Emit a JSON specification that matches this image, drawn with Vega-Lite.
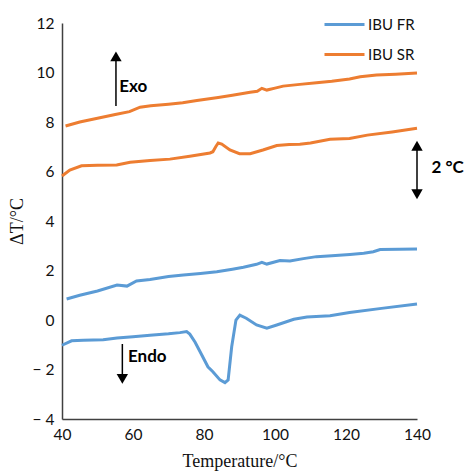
{
  "$schema": "https://vega.github.io/schema/vega-lite/v6.json",
  "width": 355,
  "height": 396,
  "autosize": {"type": "none"},
  "padding": {"left": 62, "top": 23, "right": 48, "bottom": 55},
  "background": "white",
  "config": {
    "view": {"stroke": null},
    "font": "Lato",
    "axis": {"grid": false, "ticks": false, "domainColor": "#404040", "domainWidth": 1.5, "labelColor": "#111", "labelFontSize": 15.5, "labelFont": "Lato"}
  },
  "datasets": {
    "curves": [
      {"T": 41, "v": 7.84, "series": "IBU SR", "curve": "SR_a"},
      {"T": 45, "v": 8.0, "series": "IBU SR", "curve": "SR_a"},
      {"T": 50, "v": 8.15, "series": "IBU SR", "curve": "SR_a"},
      {"T": 55, "v": 8.3, "series": "IBU SR", "curve": "SR_a"},
      {"T": 59, "v": 8.42, "series": "IBU SR", "curve": "SR_a"},
      {"T": 62, "v": 8.6, "series": "IBU SR", "curve": "SR_a"},
      {"T": 65, "v": 8.66, "series": "IBU SR", "curve": "SR_a"},
      {"T": 70, "v": 8.72, "series": "IBU SR", "curve": "SR_a"},
      {"T": 74, "v": 8.78, "series": "IBU SR", "curve": "SR_a"},
      {"T": 78, "v": 8.87, "series": "IBU SR", "curve": "SR_a"},
      {"T": 84, "v": 8.99, "series": "IBU SR", "curve": "SR_a"},
      {"T": 88, "v": 9.08, "series": "IBU SR", "curve": "SR_a"},
      {"T": 93, "v": 9.2, "series": "IBU SR", "curve": "SR_a"},
      {"T": 95, "v": 9.24, "series": "IBU SR", "curve": "SR_a"},
      {"T": 96.3, "v": 9.36, "series": "IBU SR", "curve": "SR_a"},
      {"T": 97.7, "v": 9.29, "series": "IBU SR", "curve": "SR_a"},
      {"T": 100, "v": 9.37, "series": "IBU SR", "curve": "SR_a"},
      {"T": 102.3, "v": 9.45, "series": "IBU SR", "curve": "SR_a"},
      {"T": 107, "v": 9.52, "series": "IBU SR", "curve": "SR_a"},
      {"T": 111.7, "v": 9.59, "series": "IBU SR", "curve": "SR_a"},
      {"T": 116, "v": 9.65, "series": "IBU SR", "curve": "SR_a"},
      {"T": 121, "v": 9.74, "series": "IBU SR", "curve": "SR_a"},
      {"T": 124, "v": 9.83, "series": "IBU SR", "curve": "SR_a"},
      {"T": 128.6, "v": 9.9, "series": "IBU SR", "curve": "SR_a"},
      {"T": 134, "v": 9.93, "series": "IBU SR", "curve": "SR_a"},
      {"T": 140, "v": 9.98, "series": "IBU SR", "curve": "SR_a"},

      {"T": 40, "v": 5.82, "series": "IBU SR", "curve": "SR_b"},
      {"T": 42.2, "v": 6.06, "series": "IBU SR", "curve": "SR_b"},
      {"T": 45.5, "v": 6.23, "series": "IBU SR", "curve": "SR_b"},
      {"T": 50, "v": 6.25, "series": "IBU SR", "curve": "SR_b"},
      {"T": 55.4, "v": 6.26, "series": "IBU SR", "curve": "SR_b"},
      {"T": 59.2, "v": 6.37, "series": "IBU SR", "curve": "SR_b"},
      {"T": 64.8, "v": 6.44, "series": "IBU SR", "curve": "SR_b"},
      {"T": 70.4, "v": 6.5, "series": "IBU SR", "curve": "SR_b"},
      {"T": 76, "v": 6.62, "series": "IBU SR", "curve": "SR_b"},
      {"T": 81.7, "v": 6.75, "series": "IBU SR", "curve": "SR_b"},
      {"T": 82.5, "v": 6.8, "series": "IBU SR", "curve": "SR_b"},
      {"T": 83.3, "v": 7.0, "series": "IBU SR", "curve": "SR_b"},
      {"T": 84, "v": 7.15, "series": "IBU SR", "curve": "SR_b"},
      {"T": 85, "v": 7.11, "series": "IBU SR", "curve": "SR_b"},
      {"T": 87.3, "v": 6.87, "series": "IBU SR", "curve": "SR_b"},
      {"T": 90, "v": 6.72, "series": "IBU SR", "curve": "SR_b"},
      {"T": 93, "v": 6.72, "series": "IBU SR", "curve": "SR_b"},
      {"T": 96.6, "v": 6.87, "series": "IBU SR", "curve": "SR_b"},
      {"T": 100.5, "v": 7.05, "series": "IBU SR", "curve": "SR_b"},
      {"T": 104, "v": 7.09, "series": "IBU SR", "curve": "SR_b"},
      {"T": 107, "v": 7.1, "series": "IBU SR", "curve": "SR_b"},
      {"T": 110, "v": 7.15, "series": "IBU SR", "curve": "SR_b"},
      {"T": 115.5, "v": 7.3, "series": "IBU SR", "curve": "SR_b"},
      {"T": 121, "v": 7.33, "series": "IBU SR", "curve": "SR_b"},
      {"T": 126, "v": 7.47, "series": "IBU SR", "curve": "SR_b"},
      {"T": 133, "v": 7.6, "series": "IBU SR", "curve": "SR_b"},
      {"T": 140, "v": 7.75, "series": "IBU SR", "curve": "SR_b"},

      {"T": 41.3, "v": 0.85, "series": "IBU FR", "curve": "FR_a"},
      {"T": 45, "v": 1.0, "series": "IBU FR", "curve": "FR_a"},
      {"T": 50, "v": 1.17, "series": "IBU FR", "curve": "FR_a"},
      {"T": 55.5, "v": 1.41, "series": "IBU FR", "curve": "FR_a"},
      {"T": 58.3, "v": 1.37, "series": "IBU FR", "curve": "FR_a"},
      {"T": 61, "v": 1.58, "series": "IBU FR", "curve": "FR_a"},
      {"T": 64.8, "v": 1.64, "series": "IBU FR", "curve": "FR_a"},
      {"T": 70, "v": 1.76, "series": "IBU FR", "curve": "FR_a"},
      {"T": 74.2, "v": 1.82, "series": "IBU FR", "curve": "FR_a"},
      {"T": 79, "v": 1.88, "series": "IBU FR", "curve": "FR_a"},
      {"T": 83.6, "v": 1.95, "series": "IBU FR", "curve": "FR_a"},
      {"T": 88, "v": 2.05, "series": "IBU FR", "curve": "FR_a"},
      {"T": 91.1, "v": 2.13, "series": "IBU FR", "curve": "FR_a"},
      {"T": 94.8, "v": 2.25, "series": "IBU FR", "curve": "FR_a"},
      {"T": 96.3, "v": 2.33, "series": "IBU FR", "curve": "FR_a"},
      {"T": 97.7, "v": 2.26, "series": "IBU FR", "curve": "FR_a"},
      {"T": 101.4, "v": 2.4, "series": "IBU FR", "curve": "FR_a"},
      {"T": 104.2, "v": 2.38, "series": "IBU FR", "curve": "FR_a"},
      {"T": 108, "v": 2.48, "series": "IBU FR", "curve": "FR_a"},
      {"T": 111.7, "v": 2.56, "series": "IBU FR", "curve": "FR_a"},
      {"T": 116, "v": 2.6, "series": "IBU FR", "curve": "FR_a"},
      {"T": 121.1, "v": 2.65, "series": "IBU FR", "curve": "FR_a"},
      {"T": 125, "v": 2.7, "series": "IBU FR", "curve": "FR_a"},
      {"T": 127.7, "v": 2.76, "series": "IBU FR", "curve": "FR_a"},
      {"T": 129.6, "v": 2.85, "series": "IBU FR", "curve": "FR_a"},
      {"T": 135, "v": 2.86, "series": "IBU FR", "curve": "FR_a"},
      {"T": 140, "v": 2.87, "series": "IBU FR", "curve": "FR_a"},

      {"T": 40, "v": -1.02, "series": "IBU FR", "curve": "FR_b"},
      {"T": 42.7, "v": -0.84, "series": "IBU FR", "curve": "FR_b"},
      {"T": 46, "v": -0.82, "series": "IBU FR", "curve": "FR_b"},
      {"T": 51.6, "v": -0.8, "series": "IBU FR", "curve": "FR_b"},
      {"T": 55.5, "v": -0.73, "series": "IBU FR", "curve": "FR_b"},
      {"T": 60, "v": -0.68, "series": "IBU FR", "curve": "FR_b"},
      {"T": 64.8, "v": -0.62, "series": "IBU FR", "curve": "FR_b"},
      {"T": 70, "v": -0.56, "series": "IBU FR", "curve": "FR_b"},
      {"T": 73.2, "v": -0.51, "series": "IBU FR", "curve": "FR_b"},
      {"T": 75.1, "v": -0.47, "series": "IBU FR", "curve": "FR_b"},
      {"T": 76, "v": -0.57, "series": "IBU FR", "curve": "FR_b"},
      {"T": 77.5, "v": -0.9, "series": "IBU FR", "curve": "FR_b"},
      {"T": 78.9, "v": -1.28, "series": "IBU FR", "curve": "FR_b"},
      {"T": 81.1, "v": -1.89, "series": "IBU FR", "curve": "FR_b"},
      {"T": 82.5, "v": -2.09, "series": "IBU FR", "curve": "FR_b"},
      {"T": 84.5, "v": -2.42, "series": "IBU FR", "curve": "FR_b"},
      {"T": 85.9, "v": -2.53, "series": "IBU FR", "curve": "FR_b"},
      {"T": 86.8, "v": -2.42, "series": "IBU FR", "curve": "FR_b"},
      {"T": 87.8, "v": -1.08, "series": "IBU FR", "curve": "FR_b"},
      {"T": 89, "v": 0.0, "series": "IBU FR", "curve": "FR_b"},
      {"T": 90.1, "v": 0.2, "series": "IBU FR", "curve": "FR_b"},
      {"T": 91.9, "v": 0.07, "series": "IBU FR", "curve": "FR_b"},
      {"T": 94.8, "v": -0.2, "series": "IBU FR", "curve": "FR_b"},
      {"T": 97.7, "v": -0.33, "series": "IBU FR", "curve": "FR_b"},
      {"T": 100.5, "v": -0.2, "series": "IBU FR", "curve": "FR_b"},
      {"T": 105.3, "v": 0.03, "series": "IBU FR", "curve": "FR_b"},
      {"T": 109, "v": 0.12, "series": "IBU FR", "curve": "FR_b"},
      {"T": 115.5, "v": 0.17, "series": "IBU FR", "curve": "FR_b"},
      {"T": 121, "v": 0.3, "series": "IBU FR", "curve": "FR_b"},
      {"T": 130, "v": 0.47, "series": "IBU FR", "curve": "FR_b"},
      {"T": 140, "v": 0.65, "series": "IBU FR", "curve": "FR_b"}
    ],
    "rules": [
      {"x": 55.2, "y": 8.65, "y2": 10.6},
      {"x": 57.0, "y": -0.97, "y2": -2.3},
      {"x": 140, "y": 7.0, "y2": 5.1}
    ],
    "heads": [
      {"x": 55.2, "y": 10.65, "dir": "up"},
      {"x": 57.0, "y": -2.38, "dir": "down"},
      {"x": 140, "y": 7.04, "dir": "up"},
      {"x": 140, "y": 5.08, "dir": "down"}
    ],
    "labels": [
      {"x": 56.1, "y": 9.4, "text": "Exo"},
      {"x": 58.6, "y": -1.48, "text": "Endo"},
      {"x": 144.1, "y": 6.14, "text": "2 °C"}
    ]
  },
  "layer": [
    {
      "data": {"name": "curves"},
      "mark": {"type": "line", "strokeWidth": 3, "clip": false},
      "encoding": {
        "x": {"field": "T", "type": "quantitative", "scale": {"domain": [40, 140], "nice": false, "zero": false},
              "axis": {"values": [40, 60, 80, 100, 120, 140], "title": "Temperature/°C", "titleFont": "Liberation Serif", "titleFontSize": 18, "titleFontWeight": "normal", "titleColor": "#111", "titlePadding": 10, "labelPadding": 8, "labelFlush": false}},
        "y": {"field": "v", "type": "quantitative", "scale": {"domain": [-4, 12], "nice": false, "zero": false},
              "axis": {"values": [-4, -2, 0, 2, 4, 6, 8, 10, 12], "title": "ΔT/°C", "titleFont": "Liberation Serif", "titleFontSize": 18, "titleFontWeight": "normal", "titleColor": "#111", "titlePadding": 6, "labelPadding": 8,
                       "labelExpr": "datum.value < 0 ? '− ' + format(-datum.value, 'd') : datum.label"}},
        "color": {"field": "series", "type": "nominal", "scale": {"domain": ["IBU FR", "IBU SR"], "range": ["#5B9BD5", "#ED7D31"]},
                  "legend": {"title": null, "orient": "none", "legendX": 261, "legendY": -20, "symbolType": "stroke", "symbolSize": 1600, "symbolStrokeWidth": 3, "labelFontSize": 15, "labelFont": "Lato", "labelColor": "#111", "rowPadding": -8, "labelOffset": 2, "padding": 0}},
        "detail": {"field": "curve"}
      }
    },
    {
      "data": {"name": "rules"},
      "mark": {"type": "rule", "color": "black", "strokeWidth": 1.5, "clip": false},
      "encoding": {
        "x": {"field": "x", "type": "quantitative"},
        "y": {"field": "y", "type": "quantitative"},
        "y2": {"field": "y2"}
      }
    },
    {
      "data": {"name": "heads"},
      "mark": {"type": "point", "filled": true, "color": "black", "opacity": 1, "size": 130, "clip": false},
      "encoding": {
        "x": {"field": "x", "type": "quantitative"},
        "y": {"field": "y", "type": "quantitative"},
        "shape": {"field": "dir", "type": "nominal", "scale": {"domain": ["up", "down"], "range": ["triangle-up", "triangle-down"]}, "legend": null}
      }
    },
    {
      "data": {"name": "labels"},
      "mark": {"type": "text", "align": "left", "baseline": "middle", "fontWeight": "bold", "fontSize": 17, "font": "Lato", "color": "black", "clip": false},
      "encoding": {
        "x": {"field": "x", "type": "quantitative"},
        "y": {"field": "y", "type": "quantitative"},
        "text": {"field": "text"}
      }
    }
  ]
}
